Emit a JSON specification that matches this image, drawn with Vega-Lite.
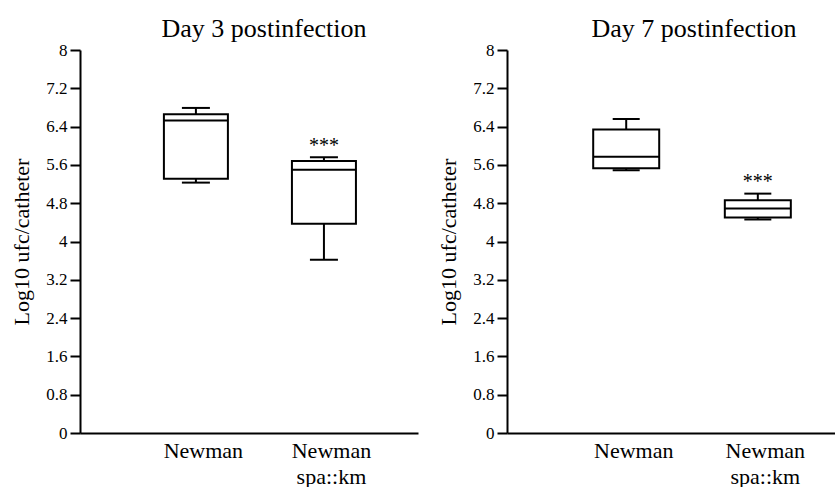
{
  "$schema": "https://vega.github.io/schema/vega-lite/v6.json",
  "padding": {"left": 10, "top": 16, "right": 0, "bottom": 0},
  "background": "white",
  "config": {
    "font": "Liberation Serif",
    "view": {"stroke": null},
    "axis": {"domainColor": "black", "domainWidth": 2, "tickColor": "black", "tickWidth": 2, "labelColor": "black", "titleColor": "black", "labelFont": "Liberation Serif", "titleFont": "Liberation Serif", "grid": false},
    "title": {"font": "Liberation Serif", "fontSize": 26, "fontWeight": "normal", "color": "black", "frame": "group", "baseline": "alphabetic", "offset": -1},
    "concat": {"spacing": 19}
  },
  "datasets": {
    "boxes": [
      {"day": 3, "strain": "Newman", "min": 5.23, "q1": 5.31, "median": 6.53, "q3": 6.66, "max": 6.79, "sig": ""},
      {"day": 3, "strain": "Newman spa::km", "min": 3.62, "q1": 4.37, "median": 5.5, "q3": 5.68, "max": 5.76, "sig": "***"},
      {"day": 7, "strain": "Newman", "min": 5.49, "q1": 5.53, "median": 5.77, "q3": 6.34, "max": 6.56, "sig": ""},
      {"day": 7, "strain": "Newman spa::km", "min": 4.46, "q1": 4.5, "median": 4.69, "q3": 4.86, "max": 5.0, "sig": "***"}
    ]
  },
  "hconcat": [
    {
      "width": 338,
      "height": 383,
      "title": {"text": "Day 3 postinfection", "dx": 15},
      "data": {"name": "boxes"},
      "transform": [{"filter": "datum.day == 3"}],
      "encoding": {
        "x": {"field": "strain", "type": "nominal", "sort": ["Newman", "Newman spa::km"], "scale": {"type": "point", "padding": 0.82, "align": 0.552},
          "axis": {"title": null, "labelAngle": 0, "ticks": false, "labelFont": "Liberation Serif", "labelFontSize": 22, "labelPadding": 7, "labelOffset": 7, "labelLineHeight": 26, "labelBaseline": "top", "labelExpr": "datum.value == 'Newman' ? 'Newman' : ['Newman', 'spa::km']"}}
      },
      "layer": [
        {"mark": {"type": "rule", "color": "black", "strokeWidth": 2},
         "encoding": {
           "y": {"field": "min", "type": "quantitative", "title": "Log10 ufc/catheter", "scale": {"domain": [0, 8], "nice": false, "zero": false},
             "axis": {"values": [0, 0.8, 1.6, 2.4, 3.2, 4, 4.8, 5.6, 6.4, 7.2, 8], "tickCount": 30, "labelExpr": "'' + datum.value", "labelOverlap": false, "labelFontSize": 17, "titleFontSize": 22, "titleFontWeight": "normal", "tickSize": 10, "labelPadding": 3, "titlePadding": 12}},
           "y2": {"field": "q1"}}},
        {"mark": {"type": "rule", "color": "black", "strokeWidth": 2},
         "encoding": {"y": {"field": "q3", "type": "quantitative", "title": "Log10 ufc/catheter"}, "y2": {"field": "max"}}},
        {"mark": {"type": "bar", "size": 64, "fill": "white", "stroke": "black", "strokeWidth": 2},
         "encoding": {"y": {"field": "q1", "type": "quantitative", "title": "Log10 ufc/catheter"}, "y2": {"field": "q3"}}},
        {"mark": {"type": "tick", "size": 64, "thickness": 2, "color": "black", "opacity": 1},
         "encoding": {"y": {"field": "median", "type": "quantitative", "title": "Log10 ufc/catheter"}}},
        {"mark": {"type": "tick", "size": 28, "thickness": 2, "color": "black", "opacity": 1},
         "encoding": {"y": {"field": "min", "type": "quantitative", "title": "Log10 ufc/catheter"}}},
        {"mark": {"type": "tick", "size": 28, "thickness": 2, "color": "black", "opacity": 1},
         "encoding": {"y": {"field": "max", "type": "quantitative", "title": "Log10 ufc/catheter"}}},
        {"mark": {"type": "text", "dy": -5, "baseline": "alphabetic", "fontSize": 20, "color": "black", "font": "Liberation Serif"},
         "encoding": {"y": {"field": "max", "type": "quantitative", "title": "Log10 ufc/catheter"}, "text": {"field": "sig"}}}
      ]
    },
    {
      "width": 328,
      "height": 383,
      "title": {"text": "Day 7 postinfection", "dx": 23},
      "data": {"name": "boxes"},
      "transform": [{"filter": "datum.day == 7"}],
      "encoding": {
        "x": {"field": "strain", "type": "nominal", "sort": ["Newman", "Newman spa::km"], "scale": {"type": "point", "padding": 0.746, "align": 0.607},
          "axis": {"title": null, "labelAngle": 0, "ticks": false, "labelFont": "Liberation Serif", "labelFontSize": 22, "labelPadding": 7, "labelOffset": 7, "labelLineHeight": 26, "labelBaseline": "top", "labelExpr": "datum.value == 'Newman' ? 'Newman' : ['Newman', 'spa::km']"}}
      },
      "layer": [
        {"mark": {"type": "rule", "color": "black", "strokeWidth": 2},
         "encoding": {
           "y": {"field": "min", "type": "quantitative", "title": "Log10 ufc/catheter", "scale": {"domain": [0, 8], "nice": false, "zero": false},
             "axis": {"values": [0, 0.8, 1.6, 2.4, 3.2, 4, 4.8, 5.6, 6.4, 7.2, 8], "tickCount": 30, "labelExpr": "'' + datum.value", "labelOverlap": false, "labelFontSize": 17, "titleFontSize": 22, "titleFontWeight": "normal", "tickSize": 10, "labelPadding": 3, "titlePadding": 12}},
           "y2": {"field": "q1"}}},
        {"mark": {"type": "rule", "color": "black", "strokeWidth": 2},
         "encoding": {"y": {"field": "q3", "type": "quantitative", "title": "Log10 ufc/catheter"}, "y2": {"field": "max"}}},
        {"mark": {"type": "bar", "size": 66, "fill": "white", "stroke": "black", "strokeWidth": 2},
         "encoding": {"y": {"field": "q1", "type": "quantitative", "title": "Log10 ufc/catheter"}, "y2": {"field": "q3"}}},
        {"mark": {"type": "tick", "size": 66, "thickness": 2, "color": "black", "opacity": 1},
         "encoding": {"y": {"field": "median", "type": "quantitative", "title": "Log10 ufc/catheter"}}},
        {"mark": {"type": "tick", "size": 27, "thickness": 2, "color": "black", "opacity": 1},
         "encoding": {"y": {"field": "min", "type": "quantitative", "title": "Log10 ufc/catheter"}}},
        {"mark": {"type": "tick", "size": 27, "thickness": 2, "color": "black", "opacity": 1},
         "encoding": {"y": {"field": "max", "type": "quantitative", "title": "Log10 ufc/catheter"}}},
        {"mark": {"type": "text", "dy": -6, "baseline": "alphabetic", "fontSize": 20, "color": "black", "font": "Liberation Serif"},
         "encoding": {"y": {"field": "max", "type": "quantitative", "title": "Log10 ufc/catheter"}, "text": {"field": "sig"}}}
      ]
    }
  ]
}
